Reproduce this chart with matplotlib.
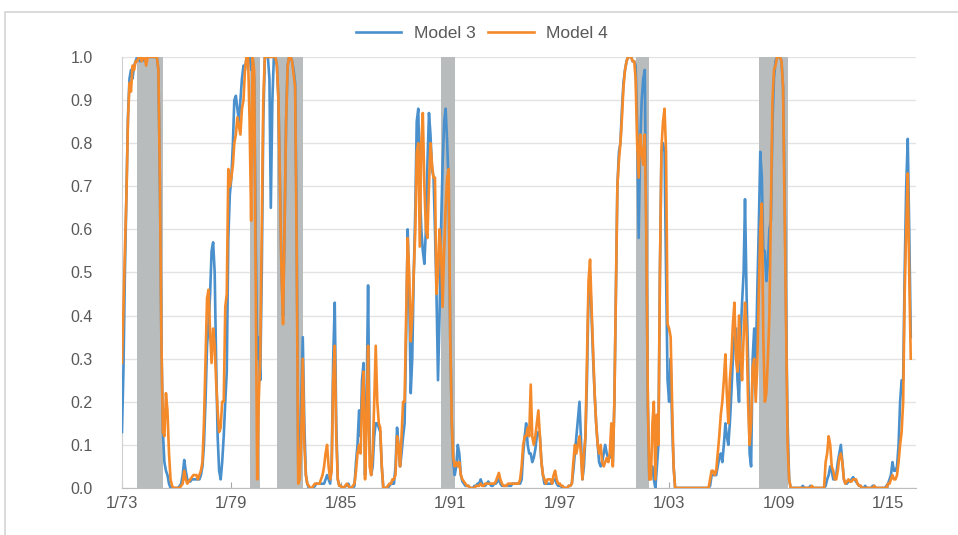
import matplotlib
matplotlib.use("Agg")
import matplotlib.pyplot as plt
import pandas as pd

# monthly recession probabilities, Jan 1973 .. Apr 2016 (12 values per row = one year)
model3 = [
    0.13, 0.28, 0.5, 0.68, 0.86, 0.95, 0.97, 0.95, 0.98, 0.99, 1.0, 1.0,          # 1973
    0.99, 1.0, 1.0, 0.99, 1.0, 1.0, 1.0, 1.0, 1.0, 1.0, 1.0, 1.0,                 # 1974
    0.97, 0.7, 0.35, 0.13, 0.06, 0.04, 0.03, 0.01, 0.0, 0.0, 0.0, 0.0,             # 1975
    0.0, 0.0, 0.005, 0.01, 0.03, 0.065, 0.04, 0.02, 0.015, 0.015, 0.02, 0.02,     # 1976
    0.02, 0.02, 0.02, 0.02, 0.03, 0.05, 0.1, 0.2, 0.33, 0.38, 0.45, 0.55,         # 1977
    0.57, 0.5, 0.3, 0.12, 0.04, 0.02, 0.06, 0.12, 0.2, 0.27, 0.58, 0.68,          # 1978
    0.72, 0.8, 0.9, 0.91, 0.88, 0.85, 0.9, 0.95, 0.98, 0.97, 1.0, 1.0,            # 1979
    1.0, 0.97, 1.0, 0.95, 0.6, 0.3, 0.35, 0.25, 0.5, 0.85, 1.0, 1.0,              # 1980
    1.0, 0.95, 0.65, 0.9, 1.0, 1.0, 0.98, 0.9, 0.7, 0.5, 0.4, 0.6,                # 1981
    0.85, 0.98, 1.0, 1.0, 0.99, 0.97, 0.94, 0.6, 0.05, 0.02, 0.2, 0.35,           # 1982
    0.15, 0.03, 0.01, 0.0, 0.0, 0.0, 0.0, 0.005, 0.01, 0.01, 0.01, 0.01,          # 1983
    0.01, 0.01, 0.02, 0.03, 0.02, 0.01, 0.05, 0.3, 0.43, 0.15, 0.02, 0.005,       # 1984
    0.005, 0.0, 0.0, 0.005, 0.005, 0.01, 0.0, 0.0, 0.0, 0.005, 0.06, 0.1,         # 1985
    0.18, 0.12, 0.25, 0.29, 0.03, 0.2, 0.47, 0.1, 0.03, 0.05, 0.12, 0.15,         # 1986
    0.15, 0.14, 0.13, 0.05, 0.0, 0.0, 0.0, 0.0, 0.005, 0.01, 0.01, 0.01,          # 1987
    0.05, 0.14, 0.1, 0.05, 0.08, 0.12, 0.15, 0.35, 0.6, 0.45, 0.22, 0.3,          # 1988
    0.5, 0.65, 0.85, 0.88, 0.7, 0.6, 0.55, 0.52, 0.6, 0.75, 0.87, 0.82,           # 1989
    0.74, 0.72, 0.6, 0.45, 0.25, 0.4, 0.6, 0.75, 0.85, 0.88, 0.8, 0.7,            # 1990
    0.35, 0.15, 0.06, 0.03, 0.05, 0.1, 0.08, 0.03, 0.015, 0.01, 0.005, 0.005,     # 1991
    0.005, 0.0, 0.0, 0.0, 0.005, 0.005, 0.01, 0.01, 0.02, 0.01, 0.005, 0.005,     # 1992
    0.01, 0.015, 0.01, 0.005, 0.005, 0.01, 0.01, 0.015, 0.02, 0.01, 0.005, 0.005, # 1993
    0.005, 0.005, 0.005, 0.005, 0.005, 0.01, 0.01, 0.01, 0.01, 0.01, 0.01, 0.02,  # 1994
    0.08, 0.12, 0.15, 0.1, 0.08, 0.08, 0.06, 0.07, 0.09, 0.12, 0.13, 0.12,        # 1995
    0.06, 0.03, 0.01, 0.01, 0.01, 0.01, 0.01, 0.01, 0.02, 0.02, 0.01, 0.005,      # 1996
    0.005, 0.005, 0.0, 0.0, 0.0, 0.0, 0.005, 0.005, 0.01, 0.04, 0.08, 0.12,       # 1997
    0.16, 0.2, 0.12, 0.02, 0.05, 0.12, 0.25, 0.45, 0.49, 0.4, 0.3, 0.22,          # 1998
    0.15, 0.1, 0.06, 0.05, 0.06, 0.08, 0.1, 0.08, 0.07, 0.07, 0.1, 0.06,          # 1999
    0.2, 0.45, 0.7, 0.78, 0.8, 0.88, 0.94, 0.97, 0.99, 1.0, 1.0, 1.0,             # 2000
    0.99, 0.99, 0.98, 0.85, 0.58, 0.8, 0.9, 0.95, 0.97, 0.6, 0.2, 0.02,           # 2001
    0.05, 0.05, 0.02, 0.0, 0.05, 0.1, 0.5, 0.78, 0.8, 0.78, 0.5, 0.25,            # 2002
    0.2, 0.3, 0.15, 0.05, 0.0, 0.0, 0.0, 0.0, 0.0, 0.0, 0.0, 0.0,                 # 2003
    0.0, 0.0, 0.0, 0.0, 0.0, 0.0, 0.0, 0.0, 0.0, 0.0, 0.0, 0.0,                   # 2004
    0.0, 0.0, 0.0, 0.005, 0.03, 0.03, 0.03, 0.03, 0.05, 0.07, 0.08, 0.06,         # 2005
    0.1, 0.15, 0.12, 0.1, 0.15, 0.22, 0.3, 0.35, 0.37, 0.25, 0.2, 0.35,           # 2006
    0.43, 0.5, 0.67, 0.45, 0.3, 0.08, 0.05, 0.3, 0.37, 0.28, 0.45, 0.6,           # 2007
    0.78, 0.72, 0.55, 0.55, 0.48, 0.52, 0.6, 0.62, 0.85, 0.95, 0.99, 1.0,         # 2008
    1.0, 1.0, 0.99, 0.93, 0.7, 0.4, 0.15, 0.02, 0.0, 0.0, 0.0, 0.0,               # 2009
    0.0, 0.0, 0.0, 0.0, 0.005, 0.0, 0.0, 0.0, 0.0, 0.005, 0.0, 0.0,               # 2010
    0.0, 0.0, 0.0, 0.0, 0.0, 0.0, 0.0, 0.005, 0.02, 0.03, 0.05, 0.04,             # 2011
    0.02, 0.02, 0.03, 0.06, 0.08, 0.1, 0.06, 0.02, 0.01, 0.01, 0.015, 0.015,      # 2012
    0.02, 0.025, 0.02, 0.015, 0.01, 0.005, 0.005, 0.0, 0.0, 0.005, 0.0, 0.0,      # 2013
    0.0, 0.0, 0.005, 0.005, 0.0, 0.0, 0.0, 0.0, 0.0, 0.0, 0.0, 0.005,             # 2014
    0.01, 0.02, 0.03, 0.06, 0.04, 0.04, 0.05, 0.1, 0.2, 0.25, 0.25, 0.5,          # 2015
    0.7, 0.81, 0.6, 0.35,                                                         # 2016
]

model4 = [
    0.29, 0.42, 0.55, 0.68, 0.85, 0.94, 0.92, 0.98, 0.97, 0.99, 0.99, 1.0,        # 1973
    1.0, 0.99, 1.0, 1.0, 0.98, 1.0, 1.0, 1.0, 1.0, 1.0, 1.0, 1.0,                 # 1974
    0.97, 0.7, 0.35, 0.13, 0.12, 0.22, 0.18, 0.08, 0.02, 0.005, 0.0, 0.0,         # 1975
    0.0, 0.0, 0.0, 0.005, 0.01, 0.04, 0.02, 0.01, 0.015, 0.02, 0.025, 0.03,       # 1976
    0.03, 0.03, 0.02, 0.03, 0.04, 0.06, 0.15, 0.3, 0.44, 0.46, 0.36, 0.29,        # 1977
    0.37, 0.33, 0.25, 0.18, 0.13, 0.14, 0.2, 0.2, 0.42, 0.45, 0.74, 0.7,          # 1978
    0.72, 0.75, 0.8, 0.82, 0.86, 0.84, 0.82, 0.88, 0.9, 0.97, 1.0, 1.0,           # 1979
    0.85, 0.62, 1.0, 0.97, 0.5, 0.02, 0.2, 0.3, 0.6, 0.9, 1.0, 1.0,              # 1980
    1.0, 1.0, 1.0, 1.0, 1.0, 1.0, 0.98, 0.9, 0.7, 0.5, 0.38, 0.6,                 # 1981
    0.85, 0.98, 1.0, 1.0, 0.99, 0.96, 0.93, 0.55, 0.01, 0.02, 0.12, 0.3,          # 1982
    0.1, 0.03, 0.01, 0.005, 0.0, 0.0, 0.005, 0.01, 0.01, 0.01, 0.01, 0.02,        # 1983
    0.03, 0.05, 0.08, 0.1, 0.05, 0.02, 0.04, 0.25, 0.33, 0.12, 0.02, 0.005,       # 1984
    0.005, 0.0, 0.0, 0.005, 0.01, 0.005, 0.0, 0.0, 0.005, 0.01, 0.04, 0.08,       # 1985
    0.1, 0.08, 0.2, 0.27, 0.02, 0.15, 0.33, 0.05, 0.03, 0.08, 0.2, 0.33,          # 1986
    0.2, 0.15, 0.14, 0.05, 0.0, 0.0, 0.0, 0.005, 0.01, 0.01, 0.02, 0.02,          # 1987
    0.03, 0.12, 0.1, 0.05, 0.12, 0.2, 0.2, 0.4, 0.58, 0.5, 0.34, 0.4,             # 1988
    0.5, 0.6, 0.78, 0.8, 0.56, 0.8, 0.87, 0.7, 0.6, 0.58, 0.7, 0.8,               # 1989
    0.75, 0.72, 0.72, 0.45, 0.5, 0.6, 0.55, 0.42, 0.55, 0.65, 0.72, 0.74,         # 1990
    0.35, 0.15, 0.07, 0.05, 0.06, 0.05, 0.06, 0.03, 0.02, 0.015, 0.01, 0.005,     # 1991
    0.005, 0.0, 0.0, 0.0, 0.0, 0.005, 0.005, 0.005, 0.01, 0.005, 0.005, 0.01,     # 1992
    0.01, 0.01, 0.01, 0.01, 0.01, 0.01, 0.015, 0.025, 0.035, 0.02, 0.01, 0.005,   # 1993
    0.005, 0.005, 0.01, 0.01, 0.01, 0.01, 0.01, 0.01, 0.01, 0.01, 0.02, 0.05,     # 1994
    0.1, 0.12, 0.12, 0.14, 0.12, 0.24, 0.12, 0.1, 0.12, 0.15, 0.18, 0.12,         # 1995
    0.06, 0.03, 0.02, 0.01, 0.02, 0.02, 0.02, 0.01, 0.03, 0.04, 0.02, 0.01,       # 1996
    0.01, 0.005, 0.005, 0.0, 0.0, 0.0, 0.005, 0.005, 0.01, 0.06, 0.1, 0.08,       # 1997
    0.1, 0.12, 0.08, 0.02, 0.08, 0.12, 0.3, 0.48, 0.53, 0.42, 0.32, 0.22,         # 1998
    0.15, 0.1, 0.08, 0.1, 0.06, 0.05, 0.06, 0.07, 0.06, 0.08, 0.15, 0.05,         # 1999
    0.2, 0.45, 0.7, 0.76, 0.8, 0.86, 0.93, 0.97, 0.99, 1.0, 1.0, 1.0,             # 2000
    0.99, 0.99, 0.95, 0.8, 0.72, 0.82, 0.78, 0.75, 0.82, 0.6, 0.2, 0.02,          # 2001
    0.02, 0.15, 0.2, 0.02, 0.17, 0.1, 0.5, 0.79, 0.85, 0.88, 0.78, 0.38,          # 2002
    0.37, 0.35, 0.2, 0.05, 0.0, 0.0, 0.0, 0.0, 0.0, 0.0, 0.0, 0.0,                # 2003
    0.0, 0.0, 0.0, 0.0, 0.0, 0.0, 0.0, 0.0, 0.0, 0.0, 0.0, 0.0,                   # 2004
    0.0, 0.0, 0.0, 0.02, 0.04, 0.04, 0.03, 0.04, 0.08, 0.12, 0.17, 0.2,           # 2005
    0.25, 0.31, 0.22, 0.15, 0.25, 0.3, 0.38, 0.43, 0.3, 0.27, 0.4, 0.3,           # 2006
    0.25, 0.35, 0.43, 0.37, 0.2, 0.1, 0.15, 0.28, 0.3, 0.2, 0.28, 0.45,           # 2007
    0.6, 0.66, 0.35, 0.2, 0.22, 0.3, 0.4, 0.65, 0.9, 0.97, 0.98, 1.0,             # 2008
    1.0, 1.0, 0.99, 0.93, 0.65, 0.35, 0.1, 0.02, 0.0, 0.0, 0.0, 0.0,              # 2009
    0.0, 0.0, 0.0, 0.0, 0.0, 0.0, 0.0, 0.0, 0.0, 0.0, 0.005, 0.0,                 # 2010
    0.0, 0.0, 0.0, 0.0, 0.0, 0.0, 0.0, 0.06, 0.08, 0.12, 0.1, 0.05,               # 2011
    0.04, 0.02, 0.02, 0.04, 0.07, 0.08, 0.06, 0.02, 0.01, 0.015, 0.02, 0.015,     # 2012
    0.015, 0.02, 0.02, 0.02, 0.01, 0.005, 0.005, 0.0, 0.0, 0.0, 0.0, 0.0,         # 2013
    0.0, 0.0, 0.0, 0.005, 0.0, 0.0, 0.0, 0.0, 0.0, 0.0, 0.0, 0.0,                 # 2014
    0.01, 0.01, 0.02, 0.03, 0.02, 0.02, 0.03, 0.06, 0.1, 0.13, 0.2, 0.45,         # 2015
    0.6, 0.73, 0.5, 0.3,                                                          # 2016
]

# NBER recessions (shaded)
rec_start = ["1973-11-01", "1980-01-01", "1981-07-01", "1990-07-01", "2001-03-01", "2007-12-01"]
rec_end = ["1975-03-31", "1980-07-31", "1982-11-30", "1991-03-31", "2001-11-30", "2009-06-30"]

tick_labels = ["1/73", "1/79", "1/85", "1/91", "1/97", "1/03", "1/09", "1/15"]
tick_dates = ["1973-01-01", "1979-01-01", "1985-01-01", "1991-01-01",
              "1997-01-01", "2003-01-01", "2009-01-01", "2015-01-01"]

months = pd.date_range("1973-01-01", periods=len(model3), freq="MS")

plt.rcParams["font.family"] = ["Liberation Sans", "DejaVu Sans"]
txt = "#595959"

fig = plt.figure(figsize=(9.58, 5.35), dpi=100)
ax = fig.add_axes([0.1273, 0.0879, 0.8287, 0.8056])

# light frame around the chart area
fig.patches.append(plt.Rectangle((5 / 958, -0.1), 1.2, 1.1 - 12 / 535,
                                 transform=fig.transFigure, fill=False,
                                 edgecolor="#d4d4d4", lw=1.2))

for s, e in zip(rec_start, rec_end):
    ax.axvspan(pd.Timestamp(s), pd.Timestamp(e), color="#b9bcbd", lw=0, zorder=1)

ax.plot(months, model3, color="#4a90cc", lw=1.9, label="Model 3", zorder=3)
ax.plot(months, model4, color="#f58a2a", lw=1.9, label="Model 4", zorder=4)

ax.set_ylim(0, 1.0)
ax.set_xlim(pd.Timestamp("1973-01-01"), pd.Timestamp("2016-07-12"))
ax.set_yticks([i / 10 for i in range(11)])
ax.set_yticklabels(["%.1f" % (i / 10) for i in range(11)])
ax.set_xticks(pd.to_datetime(tick_dates))
ax.set_xticklabels(tick_labels)

ax.yaxis.grid(True, color="#e3e3e3", lw=1)
ax.set_axisbelow(True)
for side in ["top", "right"]:
    ax.spines[side].set_visible(False)
ax.spines["left"].set_color("#cfcfcf")
ax.spines["bottom"].set_color("#bdbdbd")
ax.tick_params(axis="y", length=0, pad=21, labelsize=11.5, labelcolor=txt)
ax.tick_params(axis="x", direction="in", length=4, color="#a6a6a6",
               pad=6, labelsize=12, labelcolor=txt)

fig.legend(loc="center", bbox_to_anchor=(0.503, 0.938), ncol=2, frameon=False,
           fontsize=12.5, labelcolor=txt, handlelength=2.6, columnspacing=0.75,
           handletextpad=0.7)

fig.savefig("out.png", dpi=100)
